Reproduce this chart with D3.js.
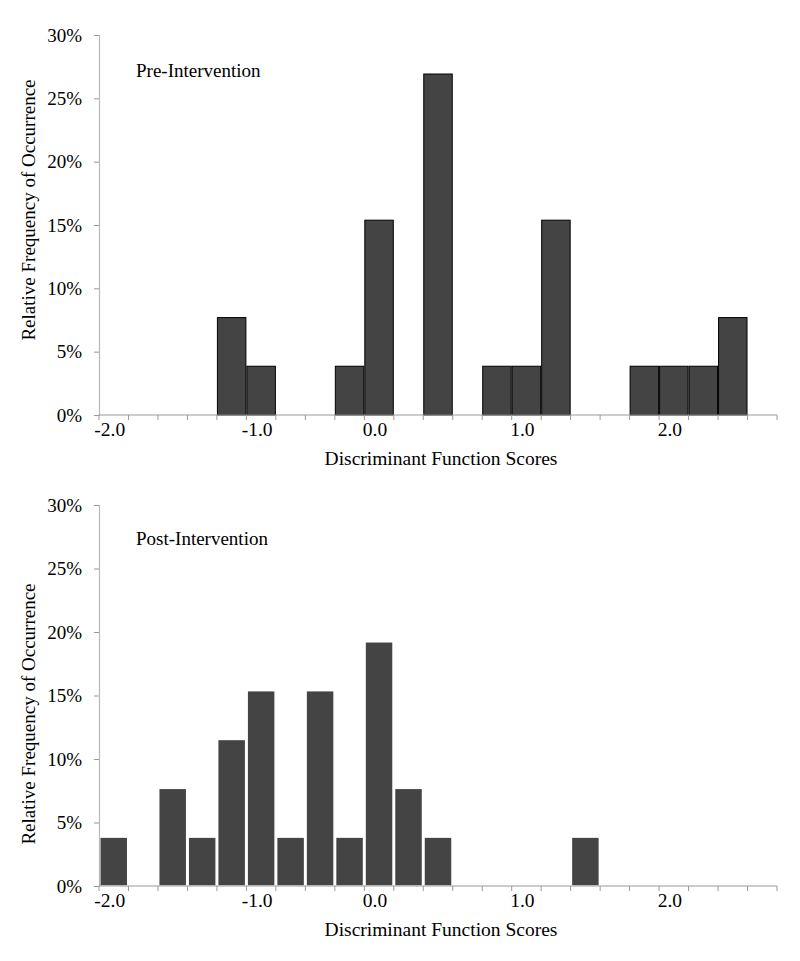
<!DOCTYPE html>
<html>
<head>
<meta charset="utf-8">
<script src="https://cdn.jsdelivr.net/npm/d3@7"></script>
<style>
  body { margin: 0; background: #fff; }
  svg text { font-family: "Liberation Serif", "Times New Roman", serif; fill: #000; }
</style>
</head>
<body>
<svg id="chart" width="800" height="961"></svg>
<script>
// 23 histogram bins (categories); tick labels shown only at some bins
const bins = d3.range(23);
const binLabels = ["-2.0","","","","","-1.0","","","","0.0","","","","","1.0","","","","","2.0","","",""];
const preValues  = [0,0,0,0,7.69,3.85,0,0,3.85,15.38,0,26.92,0,3.85,3.85,15.38,0,0,3.85,3.85,3.85,7.69,0];
const postValues = [3.85,0,7.69,3.85,11.54,15.38,3.85,15.38,3.85,19.23,7.69,3.85,0,0,0,0,3.85,0,0,0,0,0,0];
const yTicks = [0,5,10,15,20,25,30];
const panels = [
  {title: "Pre-Intervention", values: preValues, top: 35, bottom: 415, stroke: "#000", sw: 1, yLabelCy: 210, labelDy: 42},
  {title: "Post-Intervention", values: postValues, top: 505, bottom: 886, stroke: "#fff", sw: 1.5, yLabelCy: 714, labelDy: 40}
];

const svg = d3.select("#chart");
const left = 99, right = 777;

panels.forEach(p => {
  const x = d3.scaleBand().domain(bins).range([left, right]).padding(0);
  const y = d3.scaleLinear().domain([0, 30]).range([p.bottom, p.top]);
  const g = svg.append("g");

  // bars
  g.selectAll("rect.bar").data(bins.filter(i => p.values[i] > 0)).join("rect")
    .attr("class", "bar")
    .attr("x", i => x(i) + (p.sw === 1 ? 0.5 : 0.75))
    .attr("width", x.bandwidth() - (p.sw === 1 ? 1 : 1.5))
    .attr("y", i => y(p.values[i]))
    .attr("height", i => y(0) - y(p.values[i]))
    .attr("fill", "#444444")
    .attr("stroke", p.stroke)
    .attr("stroke-width", p.sw);

  // y axis
  const yAxis = d3.axisLeft(y).tickValues(yTicks).tickFormat(d => d + "%").tickSize(5).tickPadding(12);
  const ya = g.append("g").attr("transform", `translate(${left},0)`).call(yAxis);
  ya.select(".domain").attr("stroke", "#b8b8b8").attr("stroke-width", 1.2);
  ya.selectAll(".tick line").attr("stroke", "#999");
  ya.selectAll("text").attr("font-size", 19).attr("font-family", "Liberation Serif");

  // x axis: ticks at bin boundaries, labels centered in bins
  const boundaries = d3.range(24).map(i => left + i * x.step());
  const xa = g.append("g").attr("transform", `translate(0,${p.bottom})`);
  xa.append("line").attr("x1", left).attr("x2", right).attr("stroke", "#999").attr("stroke-width", 1.2);
  xa.selectAll("line.tk").data(boundaries).join("line").attr("class", "tk")
    .attr("x1", d => d).attr("x2", d => d).attr("y1", 0).attr("y2", 5)
    .attr("stroke", "#999");
  xa.selectAll("text").data(bins.filter(i => binLabels[i] !== "")).join("text")
    .attr("x", i => x(i) + x.bandwidth() / 2 - 4)
    .attr("y", 21)
    .attr("text-anchor", "middle")
    .attr("font-size", 19.5)
    .text(i => binLabels[i]);

  // axis titles
  g.append("text").attr("x", (left + right) / 2 + 3).attr("y", p.bottom + 50)
    .attr("text-anchor", "middle").attr("font-size", 19.5).text("Discriminant Function Scores");
  g.append("text").attr("transform", `translate(35,${p.yLabelCy}) rotate(-90)`)
    .attr("text-anchor", "middle").attr("font-size", 19).text("Relative Frequency of Occurrence");

  // panel label
  g.append("text").attr("x", 136).attr("y", p.top + p.labelDy).attr("font-size", 19).text(p.title);
});
</script>
</body>
</html>
